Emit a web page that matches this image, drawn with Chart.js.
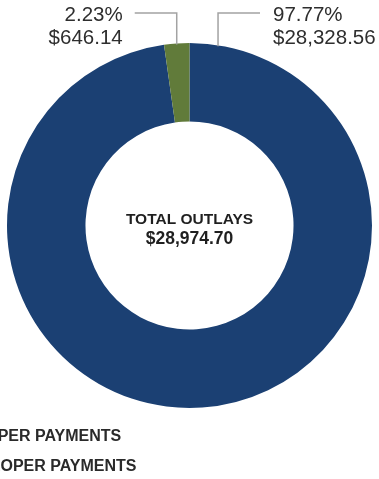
<!DOCTYPE html>
<html>
<head>
<meta charset="utf-8">
<title>Total Outlays</title>
<script src="https://cdn.jsdelivr.net/npm/chart.js@4/dist/chart.umd.min.js"></script>
<style>
  html, body { margin: 0; padding: 0; background: #ffffff; overflow: hidden; }
  #wrap { position: relative; width: 379px; height: 479px; }
  canvas { display: block; }
</style>
</head>
<body>
<div id="wrap"><canvas id="chart" width="379" height="479"></canvas></div>
<script>
// Outlay categories and amounts (dollars)
const categories = ['PROPER PAYMENTS', 'IMPROPER PAYMENTS'];
const amounts = [28328.56, 646.14];
const sliceColors = ['#1b4073', '#617b3a'];
const centerTitle = 'TOTAL OUTLAYS';

const FONT = '"Liberation Sans", Arial, Helvetica, sans-serif';
const total = amounts.reduce((a, b) => a + b, 0);

function money(v) {
  return '$' + v.toLocaleString('en-US', { minimumFractionDigits: 2, maximumFractionDigits: 2 });
}
function pct(v) {
  return (v / total * 100).toFixed(2) + '%';
}

// Leader-line labels, centre total and the legend rows
const annotations = {
  id: 'annotations',
  afterDraw(chart) {
    const ctx = chart.ctx;
    const arcs = chart.getDatasetMeta(0).data;
    const big = arcs[0], small = arcs[1];
    const cx = big.x, cy = big.y, r = big.outerRadius;
    const lineY = 13;

    ctx.save();
    ctx.strokeStyle = '#a3a3a3';
    ctx.lineWidth = 1.5;

    // small slice: anchor at the middle of its arc
    const midS = (small.startAngle + small.endAngle) / 2;
    const sx = cx + r * Math.cos(midS), sy = cy + r * Math.sin(midS);
    ctx.beginPath();
    ctx.moveTo(sx, sy + 1);
    ctx.lineTo(sx, lineY);
    ctx.lineTo(sx - 42, lineY);
    ctx.stroke();

    // large slice: anchor just past its start
    const aB = big.startAngle + 0.157;
    const bx = cx + r * Math.cos(aB), by = cy + r * Math.sin(aB);
    ctx.beginPath();
    ctx.moveTo(bx, by + 1);
    ctx.lineTo(bx, lineY);
    ctx.lineTo(bx + 42, lineY);
    ctx.stroke();

    ctx.fillStyle = '#2e2e2e';
    ctx.font = '20.5px ' + FONT;
    ctx.textBaseline = 'alphabetic';
    ctx.textAlign = 'right';
    ctx.fillText(pct(amounts[1]), sx - 54, 21);
    ctx.fillText(money(amounts[1]), sx - 54, 44);
    ctx.textAlign = 'left';
    ctx.fillText(pct(amounts[0]), bx + 55, 21);
    ctx.fillText(money(amounts[0]), bx + 55, 44);

    // centre total
    ctx.fillStyle = '#1f1f1f';
    ctx.textAlign = 'center';
    ctx.font = 'bold 15.5px ' + FONT;
    ctx.fillText(centerTitle, cx, 224);
    ctx.font = 'bold 17.5px ' + FONT;
    ctx.fillText(money(total), cx, 244);

    // legend rows (swatches sit left of the text)
    const rowX = [-37, -39.5];
    const rowY = [441, 471];
    ctx.textAlign = 'left';
    ctx.font = 'bold 16px ' + FONT;
    categories.forEach((name, i) => {
      ctx.fillStyle = sliceColors[i];
      ctx.fillRect(rowX[i] - 26, rowY[i] - 12, 14, 14);
      ctx.fillStyle = '#2a2a2a';
      ctx.fillText(name, rowX[i], rowY[i]);
    });
    ctx.restore();
  }
};

new Chart(document.getElementById('chart'), {
  type: 'doughnut',
  data: {
    labels: categories,
    datasets: [{
      data: amounts,
      backgroundColor: sliceColors,
      borderWidth: 0
    }]
  },
  options: {
    responsive: false,
    animation: false,
    cutout: '57%',
    layout: { padding: { left: 7, right: 7, top: 43, bottom: 71 } },
    plugins: {
      legend: { display: false },
      tooltip: { enabled: false }
    }
  },
  plugins: [annotations]
});
</script>
</body>
</html>
